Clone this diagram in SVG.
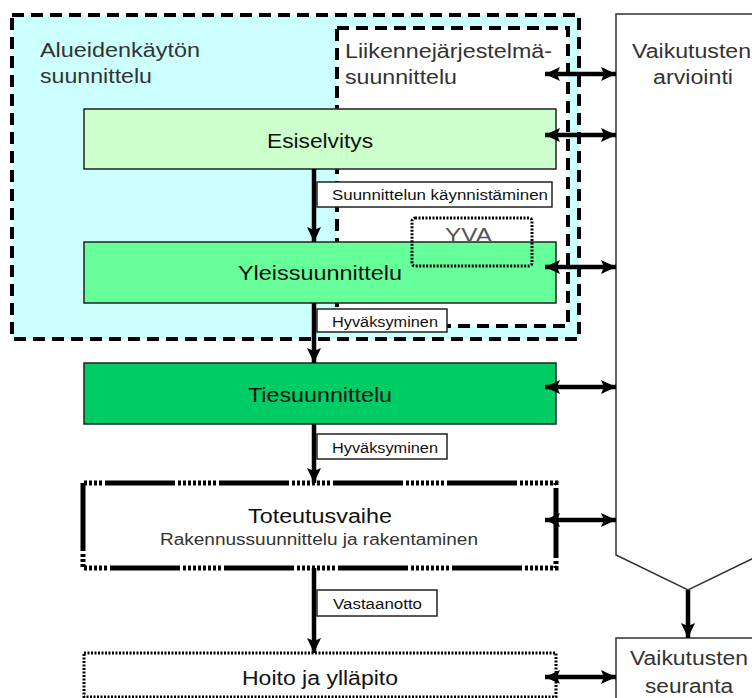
<svg xmlns="http://www.w3.org/2000/svg" width="752" height="698" viewBox="0 0 752 698">
<style>
text{font-family:"Liberation Sans",Arial,sans-serif;fill:#111}
.big{font-size:20px}
.mid{font-size:16px}
.sm{font-size:14px}
.gray{fill:#333}
.box{stroke:#222;stroke-width:1.5}
.lbl{fill:#fff;stroke:#222;stroke-width:1.5}
.dash{fill:none;stroke:#000;stroke-width:4;stroke-dasharray:12 7}
.flow{stroke:#000;stroke-width:4.5;fill:none}
.dbl{stroke:#000;stroke-width:4.5;fill:none}
</style>
<defs>
<marker id="ah" markerUnits="userSpaceOnUse" markerWidth="16" markerHeight="16" viewBox="0 0 16 16" refX="15" refY="8" orient="auto-start-reverse">
<path d="M0,1 L15,8 L0,15 L3,8 Z" fill="#000"/>
</marker>
</defs>

<g id="alueidenkaytto">
<rect x="12" y="15" width="567" height="324" fill="#ccffff"/>
<rect x="337" y="28" width="231" height="298" fill="#fff"/>
<rect x="12" y="15" width="567" height="324" class="dash"/>
<text x="40" y="57" class="big gray" textLength="160" lengthAdjust="spacingAndGlyphs">Alueidenkäytön</text>
<text x="40" y="83" class="big gray" textLength="112" lengthAdjust="spacingAndGlyphs">suunnittelu</text>
</g>

<g id="liikennejarjestelma">
<rect x="337" y="28" width="231" height="298" class="dash"/>
<text x="345" y="58" class="big gray" textLength="207" lengthAdjust="spacingAndGlyphs">Liikennejärjestelmä-</text>
<text x="345" y="84" class="big gray" textLength="112" lengthAdjust="spacingAndGlyphs">suunnittelu</text>
</g>

<g id="esiselvitys">
<rect x="84" y="109" width="472" height="60" fill="#ccffcc" class="box"/>
<text x="267" y="148" class="big" textLength="106" lengthAdjust="spacingAndGlyphs">Esiselvitys</text>
</g>

<g id="yleissuunnittelu">
<rect x="84" y="242" width="472" height="61" fill="#66ff99" class="box"/>
<text x="238" y="280" class="big" textLength="164" lengthAdjust="spacingAndGlyphs">Yleissuunnittelu</text>
</g>

<g id="tiesuunnittelu">
<rect x="84" y="363" width="472" height="61" fill="#00cc66" class="box"/>
<text x="248" y="402" class="big" textLength="144" lengthAdjust="spacingAndGlyphs">Tiesuunnittelu</text>
</g>

<g id="toteutusvaihe">
<path d="M83,483 H556 V568 H83 Z" fill="#fff" stroke="#000" stroke-width="5" stroke-dasharray="70 3 3 2 3 2 3 2 3 2 3 2 3 2 3 2 3 3" stroke-dashoffset="92"/>
<text x="248" y="523" class="big" textLength="144" lengthAdjust="spacingAndGlyphs">Toteutusvaihe</text>
<text x="160" y="545" class="mid gray" textLength="318" lengthAdjust="spacingAndGlyphs">Rakennussuunnittelu ja rakentaminen</text>
</g>

<g id="hoito">
<rect x="84" y="653" width="472" height="44" fill="#fff" stroke="#000" stroke-width="3" stroke-dasharray="2 1.5"/>
<text x="242" y="685" class="big" textLength="156" lengthAdjust="spacingAndGlyphs">Hoito ja ylläpito</text>
</g>

<g id="yva">
<rect x="412" y="218" width="120" height="48" rx="3" fill="none" stroke="#000" stroke-width="3" stroke-dasharray="2 1.5"/>
<text x="445" y="242" class="big" style="fill:#555" textLength="47" lengthAdjust="spacingAndGlyphs">YVA</text>
</g>

<g id="arviointi">
<path d="M760,14 H616 V555 L688,590 L760,555" fill="#fff" stroke="#333" stroke-width="1.5"/>
<text x="632" y="58" class="big gray" textLength="119" lengthAdjust="spacingAndGlyphs">Vaikutusten</text>
<text x="653" y="84" class="big gray" textLength="80" lengthAdjust="spacingAndGlyphs">arviointi</text>
</g>

<g id="seuranta">
<rect x="616" y="638" width="150" height="70" fill="#fff" stroke="#333" stroke-width="1.5"/>
<text x="630" y="665" class="big gray" textLength="118" lengthAdjust="spacingAndGlyphs">Vaikutusten</text>
<text x="645" y="693" class="big gray" textLength="88" lengthAdjust="spacingAndGlyphs">seuranta</text>
</g>

<g id="connectors">
<line x1="314" y1="169" x2="314" y2="242" class="flow" marker-end="url(#ah)"/>
<line x1="314" y1="303" x2="314" y2="363" class="flow" marker-end="url(#ah)"/>
<line x1="314" y1="424" x2="314" y2="483" class="flow" marker-end="url(#ah)"/>
<line x1="314" y1="568" x2="314" y2="653" class="flow" marker-end="url(#ah)"/>
<line x1="688" y1="590" x2="688" y2="638" class="flow" marker-end="url(#ah)"/>
<line x1="545" y1="74" x2="616" y2="74" class="dbl" marker-start="url(#ah)" marker-end="url(#ah)"/>
<line x1="545" y1="135" x2="616" y2="135" class="dbl" marker-start="url(#ah)" marker-end="url(#ah)"/>
<line x1="545" y1="267" x2="616" y2="267" class="dbl" marker-start="url(#ah)" marker-end="url(#ah)"/>
<line x1="545" y1="387" x2="616" y2="387" class="dbl" marker-start="url(#ah)" marker-end="url(#ah)"/>
<line x1="545" y1="520" x2="616" y2="520" class="dbl" marker-start="url(#ah)" marker-end="url(#ah)"/>
<line x1="545" y1="677" x2="616" y2="677" class="dbl" marker-start="url(#ah)" marker-end="url(#ah)"/>
</g>

<g id="label-kaynnistaminen">
<rect x="317" y="182" width="235" height="25" class="lbl"/>
<text x="332" y="200" class="sm" textLength="216" lengthAdjust="spacingAndGlyphs">Suunnittelun käynnistäminen</text>
</g>
<g id="label-hyvaksyminen1">
<rect x="317" y="309" width="130" height="23" class="lbl"/>
<text x="332" y="327" class="sm" textLength="106" lengthAdjust="spacingAndGlyphs">Hyväksyminen</text>
</g>
<g id="label-hyvaksyminen2">
<rect x="317" y="434" width="130" height="25" class="lbl"/>
<text x="332" y="453" class="sm" textLength="106" lengthAdjust="spacingAndGlyphs">Hyväksyminen</text>
</g>
<g id="label-vastaanotto">
<rect x="317" y="590" width="120" height="26" class="lbl"/>
<text x="333" y="609" class="sm" textLength="89" lengthAdjust="spacingAndGlyphs">Vastaanotto</text>
</g>
</svg>
